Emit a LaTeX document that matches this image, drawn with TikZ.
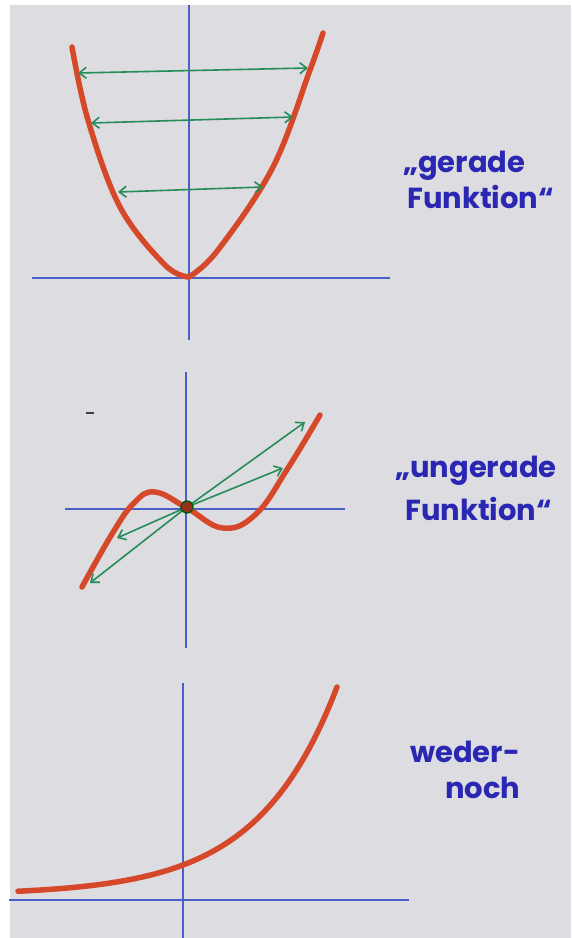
\documentclass[tikz,border=0pt]{standalone}
\usepackage{fontspec}
\setmainfont{Poppins}
\usetikzlibrary{arrows.meta}
\definecolor{papier}{RGB}{221,220,225}
\definecolor{achsblau}{RGB}{72,96,200}
\definecolor{rotstift}{RGB}{214,72,42}
\definecolor{gruenstift}{RGB}{38,140,88}
\definecolor{blaustift}{RGB}{42,40,178}

\begin{document}
\begin{tikzpicture}[
    x=1pt, y=-1pt,
    achse/.style={draw=achsblau, line width=1.1pt},
    graph rot/.style={draw=rotstift, line width=5.5pt, line cap=round, line join=round},
    pfeil gruen/.style={draw=gruenstift, line width=1.6pt, {Straight Barb[length=7pt,width=11pt]}-{Straight Barb[length=7pt,width=11pt]}},
    pfeil gruen einfach/.style={draw=gruenstift, line width=1.6pt, -{Straight Barb[length=7pt,width=11pt]}},
    beschriftung/.style={text=blaustift, font=\fontsize{29}{32}\selectfont\bfseries, anchor=base west, inner sep=0pt}
]

% ---- Papier ----
\fill[white] (0,0) rectangle (571,938);
\fill[papier] (10,5) rectangle (571,938);
\useasboundingbox (0,0) rectangle (571,938);

% ---- 1. gerade Funktion (Parabel) ----
\draw[achse] (189,5) -- (189,340);
\draw[achse] (32,278) -- (390,278);
\draw[graph rot] plot[smooth, tension=0.6] coordinates {(72,47) (88,120) (120,207)
    (165,265) (189,277)}
    -- plot[smooth, tension=0.6] coordinates {(189,277) (218,250) (273,167) (310,70) (323,33)};
% Spiegelpfeile
\coordinate (g1l) at (78,73);  \coordinate (g1r) at (308,68);
\coordinate (g2l) at (91,123); \coordinate (g2r) at (293,117);
\coordinate (g3l) at (118,192); \coordinate (g3r) at (263,187);
\draw[pfeil gruen] (g1l) -- (g1r);
\draw[pfeil gruen] (g2l) -- (g2r);
\draw[pfeil gruen] (g3l) -- (g3r);
\node[beschriftung] (gerade) at (403,172) {„gerade};
\node[beschriftung] (gerade2) at (407,208) {Funktion“};

% ---- 2. ungerade Funktion (kubisch) ----
\draw[achse] (186,372) -- (186,648);
\draw[achse] (65,509) -- (345,509);
\draw[line width=2.5pt, draw=black!75] (86,413) -- (94,413);
\draw[graph rot] plot[smooth, tension=0.7] coordinates {(82,587) (112,534) (134,503)
    (155,492) (187,508) (223,528) (256,514) (288,468) (320,415)};
\coordinate (o) at (187,507);
\coordinate (u1) at (305,422);
\coordinate (u2) at (283,468);
\coordinate (u3) at (117,538);
\coordinate (u4) at (90,583);
\draw[pfeil gruen einfach] (o) -- (u1);
\draw[pfeil gruen einfach] (o) -- (u2);
\draw[pfeil gruen einfach] (o) -- (u3);
\draw[pfeil gruen einfach] (o) -- (u4);
\draw[draw=green!35!black, fill=rotstift!70!black, line width=1.3pt] (o) circle[radius=6pt];
\node[beschriftung] (ungerade) at (395,477) {„ungerade};
\node[beschriftung] (ungerade2) at (405,520) {Funktion“};

% ---- 3. weder-noch (Exponentialkurve) ----
\draw[achse] (183,683) -- (183,938);
\draw[achse] (9,900) -- (409,900);
\draw[graph rot] plot[domain=18:337, samples=80] (\x,{895-30*exp(0.01257*(\x-183))});
\node[beschriftung] (weder) at (410,762) {weder-};
\node[beschriftung] (noch) at (445,798) {noch};

\end{tikzpicture}
\end{document}
